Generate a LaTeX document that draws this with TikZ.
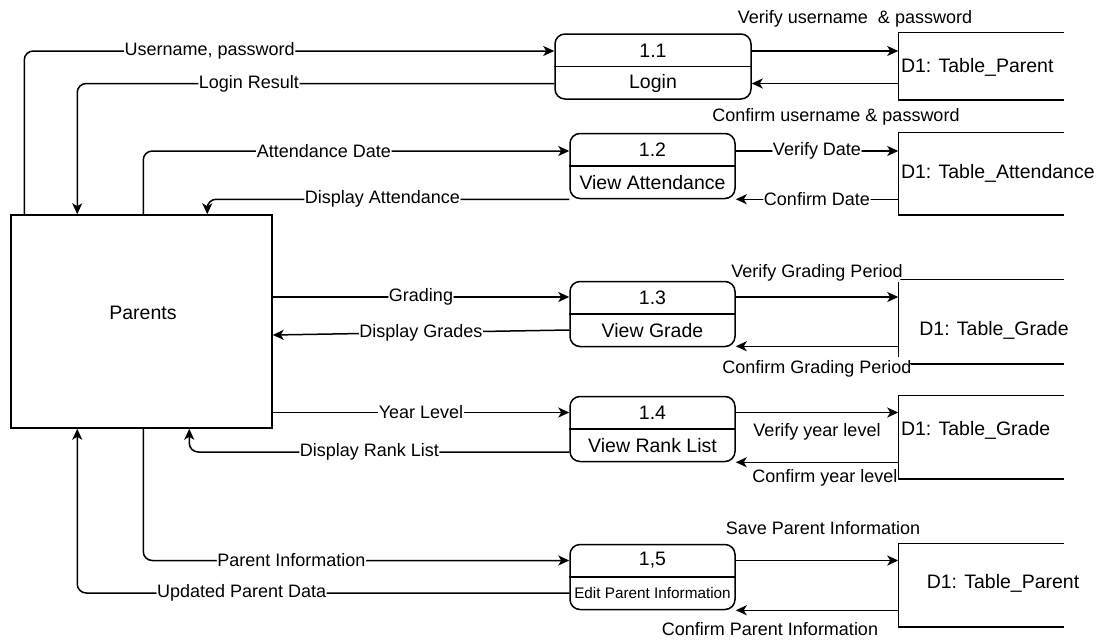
\documentclass[tikz,border=0pt]{standalone}
\usepackage{fontspec}
\setmainfont{Liberation Sans}
\usetikzlibrary{arrows.meta,calc}
\begin{document}
\begin{tikzpicture}[x=1pt,y=-1pt,
  line width=1.5pt,
  every node/.style={inner sep=0pt},
  boxtext/.style={font=\fontsize{19.5}{22}\selectfont},
  proc/.style={draw, rounded corners=10pt, minimum width=#1, minimum height=65pt},
  store/.style={minimum width=164pt, minimum height=#1},
  flow/.style={-{Stealth[length=11pt,width=10pt,inset=3pt]}, rounded corners=9pt},
  lbl/.style={fill=white, inner sep=0.6pt, font=\fontsize{18}{20}\selectfont},
]
\fill[white] (0,0) rectangle (1104,641);
\useasboundingbox (0,0) rectangle (1104,641);

% external entity
\node[draw, minimum width=261pt, minimum height=213pt] (par) at (141.5,321.5) {};
\node[boxtext] (partxt) at (143,313) {Parents};

% processes
\node[proc=196pt] (p1) at (653,66.5) {};
\node[proc=165pt] (p2) at (652.5,166) {};
\node[proc=165pt] (p3) at (652.5,314) {};
\node[proc=165pt] (p4) at (652.5,429) {};
\node[proc=165pt] (p5) at (652.5,577) {};
\foreach \p in {p1,p2,p3,p4,p5} \draw (\p.west) -- (\p.east);
\node[boxtext] (p1n) at ([yshift=15.5pt]p1.center) {1.1};
\node[boxtext] (p1t) at ([yshift=-16.5pt]p1.center) {Login};
\node[boxtext] (p2n) at ([yshift=16.5pt]p2.center) {1.2};
\node[boxtext] (p2t) at ([yshift=-16.5pt]p2.center) {View Attendance};
\node[boxtext] (p3n) at ([yshift=16.5pt]p3.center) {1.3};
\node[boxtext] (p3t) at ([yshift=-16.5pt]p3.center) {View Grade};
\node[boxtext] (p4n) at ([yshift=16.5pt]p4.center) {1.4};
\node[boxtext] (p4t) at ([yshift=-16.5pt]p4.center) {View Rank List};
\node[boxtext] (p5n) at ([yshift=16.5pt]p5.center) {1,5};
\node[font=\fontsize{15.3}{17}\selectfont] (p5t) at ([yshift=-16.5pt]p5.center) {Edit Parent Information};

% data stores (open on the right)
\node[store=66pt] (s1) at (981,66) {};
\node[store=81pt] (s2) at (981,173.5) {};
\node[store=83pt] (s3) at (981,321.5) {};
\node[store=82pt] (s4) at (981,437) {};
\node[store=82pt] (s5) at (981,585) {};
\foreach \s in {s1,s2,s4,s5}
  \draw (\s.north east) -- (\s.north west) -- (\s.south west) -- (\s.south east);
\draw ([xshift=2pt]s3.north west) -- (s3.north east);
\draw ([xshift=10pt]s3.south west) -- (s3.south east);
\draw ([yshift=-3pt]s3.north west) -- ([yshift=7pt]s3.south west);
\node[boxtext, anchor=west] (s1t) at ([xshift=2pt,yshift=-1.5pt]s1.west) {D1: Table\_Parent};
\node[boxtext, anchor=west] (s2t) at ([xshift=2pt]s2.west) {D1: Table\_Attendance};
\node[boxtext] (s3t) at ([xshift=13pt,yshift=-8.5pt]s3.center) {D1: Table\_Grade};
\node[boxtext, anchor=west] (s4t) at ([xshift=2pt,yshift=7pt]s4.west) {D1: Table\_Grade};
\node[boxtext] (s5t) at ([xshift=22pt,yshift=2pt]s5.center) {D1: Table\_Parent};

% flows between Parents and the processes
\draw[flow] ([xshift=14pt]par.north west) |- ([yshift=15.5pt]p1.west)
  node[lbl, pos=0.675] {Username, password};
\draw[flow] ([yshift=-17pt]p1.west) -| ([xshift=67pt]par.north west)
  node[lbl, pos=0.32] {Login Result};
\draw[flow] ([xshift=133pt]par.north west) |- ([yshift=15pt]p2.west)
  node[lbl, pos=0.712] {Attendance Date};
\draw[flow] (p2.south west) -| ([xshift=197pt]par.north west)
  node[lbl, pos=0.258] {Display Attendance};
\draw[flow] ([yshift=17pt]p3.west -| par.east) -- ([yshift=17pt]p3.west)
  node[lbl, midway] {Grading};
\draw[flow] ([yshift=-16pt]p3.west) -- ([yshift=-13.5pt]par.east)
  node[lbl, midway] {Display Grades};
\draw[flow] ([yshift=16.5pt]p4.west -| par.east) -- ([yshift=16.5pt]p4.west)
  node[lbl, midway] {Year Level};
\draw[flow] ([yshift=-23pt]p4.west) -| ([xshift=179pt]par.south west)
  node[lbl, pos=0.263] {Display Rank List};
\draw[flow] ([xshift=133pt]par.south west) |- ([yshift=16.5pt]p5.west)
  node[lbl, pos=0.674] {Parent Information};
\draw[flow] ([yshift=-16pt]p5.west) -| ([xshift=67pt]par.south west)
  node[lbl, pos=0.333] {Updated Parent Data};

% flows between the processes and the data stores
\draw[flow] ([yshift=15.5pt]p1.east) -- ([yshift=15.5pt]p1.east -| s1.west)
  node[lbl, midway, xshift=30pt, yshift=32pt] {Verify username~ \& password};
\draw[flow] ([yshift=-17pt]p1.east -| s1.west) -- ([yshift=-17pt]p1.east)
  node[lbl, midway, xshift=11pt, yshift=-33pt] {Confirm username \& password};
\draw[flow] ([yshift=15pt]p2.east) -- ([yshift=15pt]p2.east -| s2.west)
  node[lbl, midway] {Verify Date};
\draw[flow] (p2.south east -| s2.west) -- (p2.south east)
  node[lbl, midway] {Confirm Date};
\draw[flow] ([yshift=17pt]p3.east) -- ([yshift=17pt]p3.east -| s3.west)
  node[lbl, midway, yshift=24pt] {Verify Grading Period};
\draw[flow] ([yshift=1pt]p3.south east -| s3.west) -- ([yshift=1pt]p3.south east)
  node[lbl, midway, yshift=-23pt] {Confirm Grading Period};
\draw[flow] ([yshift=16.5pt]p4.east) -- ([yshift=16.5pt]p4.east -| s4.west)
  node[lbl, midway, yshift=-19pt] {Verify year level};
\draw[flow] (p4.south east -| s4.west) -- (p4.south east)
  node[lbl, midway, xshift=8pt, yshift=-16pt] {Confirm year level};
\draw[flow] ([yshift=16.5pt]p5.east) -- ([yshift=16.5pt]p5.east -| s5.west)
  node[lbl, midway, xshift=6pt, yshift=32pt] {Save Parent Information};
\draw[flow] (p5.south east -| s5.west) -- (p5.south east)
  node[lbl, midway, xshift=-47pt, yshift=-19pt] {Confirm Parent Information};
\end{tikzpicture}
\end{document}
